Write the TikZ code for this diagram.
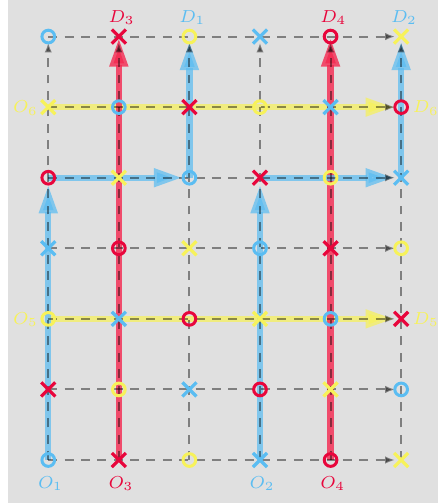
\documentclass[tikz,border=0pt]{standalone}
\usetikzlibrary{arrows.meta,shapes.misc,calc}
\definecolor{bg}{HTML}{E0E0E0}
\definecolor{cb}{HTML}{5BBDF2}
\definecolor{cr}{HTML}{E8063C}
\definecolor{cy}{HTML}{F7F25A}
\definecolor{pr}{HTML}{F42850}
\begin{document}
\begin{tikzpicture}[x=1cm,y=1cm,
  gridline/.style={draw=black, draw opacity=0.43, fill opacity=0.43, line width=0.8pt,
    dash pattern=on 3.6pt off 3pt, -{Latex[length=4pt,width=3pt]}, shorten >=0.085cm},
  cpath/.style={line width=2.5pt, draw opacity=0.72, fill opacity=0.72,
    -{Triangle[length=11.5pt,width=7pt]}, shorten >=0.1cm},
  bpath/.style={cpath, draw=cb, fill=cb},
  rpath/.style={cpath, draw=pr, fill=pr, draw opacity=0.8, fill opacity=0.8, shorten >=0.02cm},
  ypath/.style={cpath, draw=cy, fill=cy},
  mk/.style={inner sep=0pt, outer sep=0pt, line width=1.2pt},
  s0/.style={circle, draw, minimum size=0.18cm},
  s1/.style={cross out, draw, minimum size=0.2cm, line width=1.3pt},
  m0/.style={draw=cb},
  m1/.style={draw=cr},
  m2/.style={draw=cy},
  lab/.style={inner sep=0pt, font=\fontsize{7.2}{9}\selectfont}
]
\fill[white] (-0.684,-0.609) rectangle (5.522,6.518);
\fill[bg] (-0.571,-0.609) rectangle (5.522,6.518);
\useasboundingbox (-0.684,-0.609) rectangle (5.522,6.518);
\foreach \i in {0,...,5} {
  \foreach \j in {0,...,6} {
    \coordinate (p\i\j) at (\i,\j);
  }
}
% yellow paths
\draw[ypath] (p02) -- (p52);
\draw[ypath] (p05) -- (p55);
% red paths
\draw[rpath] (p10) -- (p16);
\draw[rpath] (p40) -- (p46);
% blue paths
\draw[bpath] (p00) -- (p04);
\draw[bpath] (p04) -- (p24);
\draw[bpath, shorten >=0.07cm] (p24) -- (p26);
\draw[bpath] (p30) -- (p34);
\draw[bpath] (p34) -- (p54);
\draw[bpath, shorten >=0.07cm] (p54) -- (p56);
% grid
\foreach \i in {0,...,5} {
  \draw[gridline] (p\i0) -- (p\i6);
}
\foreach \j in {0,...,6} {
  \draw[gridline] (p0\j) -- (p5\j);
}
% markers
\foreach \i in {0,...,5} {
  \foreach \j in {0,...,6} {
    \pgfmathtruncatemacro\sh{mod(\i+\j,2)}
    \pgfmathtruncatemacro\co{mod(\i+\j,3)}
    \node[mk, s\sh, m\co] (m\i\j) at (p\i\j) {};
  }
}
% labels
\node[lab, text=cb, anchor=base] (O1) at ($(p00)+(0.03,-0.40)$) {$O_1$};
\node[lab, text=cr, anchor=base] (O3) at ($(p10)+(0.03,-0.40)$) {$O_3$};
\node[lab, text=cb, anchor=base] (O2) at ($(p30)+(0.03,-0.40)$) {$O_2$};
\node[lab, text=cr, anchor=base] (O4) at ($(p40)+(0.03,-0.40)$) {$O_4$};
\node[lab, text=cr, anchor=base] (D3) at ($(p16)+(0.04,0.2)$) {$D_3$};
\node[lab, text=cb, anchor=base] (D1) at ($(p26)+(0.04,0.2)$) {$D_1$};
\node[lab, text=cr, anchor=base] (D4) at ($(p46)+(0.04,0.2)$) {$D_4$};
\node[lab, text=cb, anchor=base] (D2) at ($(p56)+(0.04,0.2)$) {$D_2$};
\node[lab, text=cy, anchor=base east] (O6) at ($(p05)+(-0.14,-0.08)$) {$O_6$};
\node[lab, text=cy, anchor=base east] (O5) at ($(p02)+(-0.14,-0.08)$) {$O_5$};
\node[lab, text=cy, anchor=base west] (D6) at ($(p55)+(0.16,-0.08)$) {$D_6$};
\node[lab, text=cy, anchor=base west] (D5) at ($(p52)+(0.16,-0.08)$) {$D_5$};
\end{tikzpicture}
\end{document}
